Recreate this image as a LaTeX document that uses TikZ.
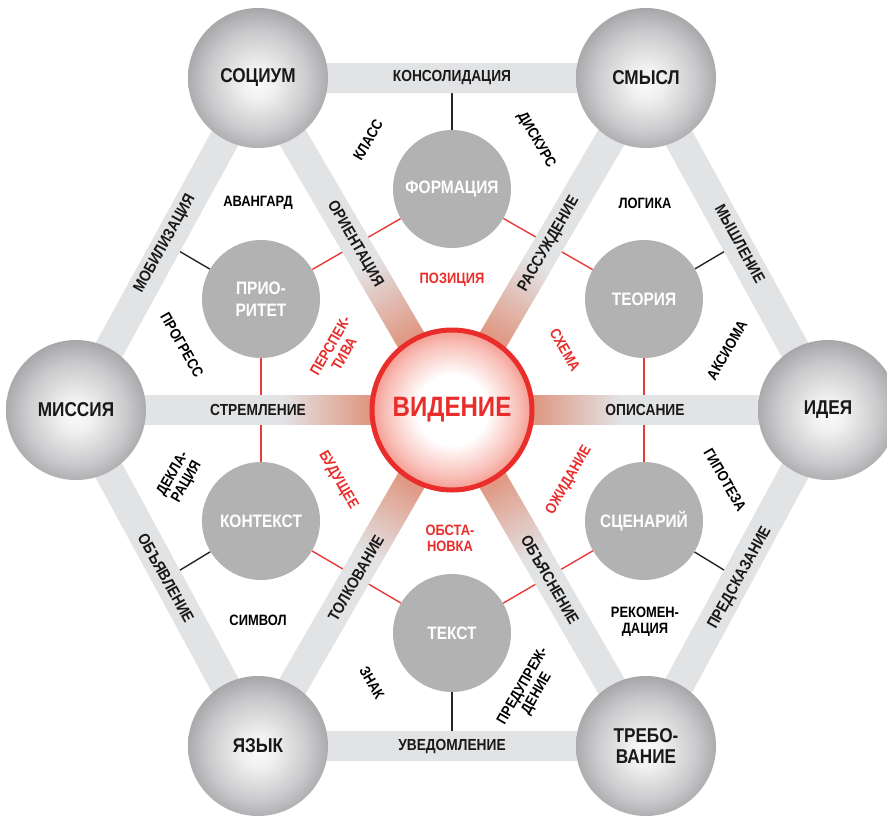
\documentclass[tikz,border=0pt]{standalone}
\usepackage{fontspec}
\setmainfont{Liberation Sans}[FakeStretch=0.86]
\usetikzlibrary{calc}
\definecolor{bandgray}{RGB}{226,227,229}
\definecolor{spokered}{RGB}{224,150,128}
\definecolor{innergray}{RGB}{178,178,178}
\definecolor{vred}{RGB}{233,45,42}
\definecolor{linered}{RGB}{232,58,55}
\definecolor{sphA}{RGB}{250,250,250}
\definecolor{sphB}{RGB}{240,240,241}
\definecolor{sphC}{RGB}{202,202,204}
\definecolor{sphD}{RGB}{158,158,160}
\definecolor{sphE}{RGB}{118,118,120}
\definecolor{redA}{RGB}{255,255,255}
\definecolor{redB}{RGB}{248,190,182}
\definecolor{redC}{RGB}{240,118,106}
\definecolor{redD}{RGB}{234,70,60}
\definecolor{txt}{RGB}{25,25,25}
\pgfdeclareradialshading{sphere}{\pgfpoint{0bp}{-2bp}}{color(0bp)=(sphA); color(6bp)=(sphB); color(18bp)=(sphC); color(28bp)=(sphD); color(35.5bp)=(sphE); color(50bp)=(sphE)}
\pgfdeclareradialshading{redsphere}{\pgfpoint{0bp}{0bp}}{color(0bp)=(redA); color(11bp)=(redA); color(21bp)=(redB); color(29bp)=(redC); color(35.5bp)=(redD); color(50bp)=(redD)}
\pgfdeclarelayer{lines}
\pgfdeclarelayer{bands}
\pgfsetlayers{lines,bands,main}
\begin{document}
\begin{tikzpicture}[x=1pt,y=-1pt,
  outer/.style={circle, minimum size=140pt, inner sep=0pt, shading=sphere, text=txt, align=center,
    font=\fontsize{20}{21}\selectfont\bfseries},
  vision/.style={circle, minimum size=160pt, inner sep=0pt, shading=redsphere, draw=vred, line width=5pt,
    text=vred, font=\fontsize{28}{30}\selectfont\bfseries},
  inner/.style={circle, minimum size=118pt, inner sep=0pt, fill=innergray, text=white, align=center,
    font=\fontsize{18}{22}\selectfont\bfseries},
  band/.style={draw=bandgray, line width=30pt},
  bandlbl/.style={text=txt, inner sep=0pt, font=\fontsize{16}{18}\selectfont\bfseries},
  smalllbl/.style={text=black, inner sep=0pt, align=center, font=\fontsize{15}{16}\selectfont\bfseries},
  redlbl/.style={smalllbl, text=vred},
  blkline/.style={draw=black!85, line width=1.4pt},
  redline/.style={draw=linered, line width=1.4pt}
]
\useasboundingbox (0,0) rectangle (887,815);

% outer circles
\node[outer] (soc) at (258,78) {СОЦИУМ};
\node[outer] (sm) at (646,78) {СМЫСЛ};
\node[outer] (idea) at (828,410) {ИДЕЯ};
\node[outer] (treb) at (646,746) {ТРЕБО-\\ВАНИЕ};
\node[outer] (yaz) at (258,746) {ЯЗЫК};
\node[outer] (mis) at (76,410) {МИССИЯ};
% centre
\node[vision] (vis) at (452,410) {ВИДЕНИЕ};
% inner circles
\node[inner] (form) at (452,189) {ФОРМАЦИЯ};
\node[inner] (prio) at (261,299) {ПРИО-\\РИТЕТ};
\node[inner] (teor) at (644,299) {ТЕОРИЯ};
\node[inner] (kont) at (261,521) {КОНТЕКСТ};
\node[inner] (scen) at (644,521) {СЦЕНАРИЙ};
\node[inner] (tekst) at (452,633) {ТЕКСТ};

% edge midpoints
\coordinate (mTop) at ($(soc)!0.5!(sm)$);
\coordinate (mTR) at ($(sm)!0.5!(idea)$);
\coordinate (mBR) at ($(idea)!0.5!(treb)$);
\coordinate (mBot) at ($(treb)!0.5!(yaz)$);
\coordinate (mBL) at ($(yaz)!0.5!(mis)$);
\coordinate (mTL) at ($(mis)!0.5!(soc)$);

% thin connectors
\begin{pgfonlayer}{lines}
\draw[blkline] (form) -- (mTop);
\draw[blkline] (teor) -- (mTR);
\draw[blkline] (scen) -- (mBR);
\draw[blkline] (tekst) -- (mBot);
\draw[blkline] (kont) -- (mBL);
\draw[blkline] (prio) -- (mTL);
\draw[redline] (form) -- (prio);
\draw[redline] (form) -- (teor);
\draw[redline] (teor) -- (scen);
\draw[redline] (scen) -- (tekst);
\draw[redline] (tekst) -- (kont);
\draw[redline] (kont) -- (prio);
\end{pgfonlayer}

% bands
\begin{pgfonlayer}{bands}
\draw[band] (soc.center) -- (sm.center) -- (idea.center) -- (treb.center) -- (yaz.center) -- (mis.center) -- cycle;
\foreach \n/\a in {soc/120.3, sm/59.7, idea/0, treb/-60, yaz/-120, mis/180}{
  \draw[band] (vis.center) -- (\n.center);
  \begin{scope}[shift={(vis.center)}, rotate=\a]
    \fill[spokered] (0,-15) rectangle (81,15);
    \foreach \i in {0,...,44}{
      \pgfmathsetmacro\p{100*\i/44}
      \fill[bandgray!\p!spokered] (80+2*\i,-15) rectangle (82.6+2*\i,15);
    }
  \end{scope}
}
\end{pgfonlayer}

% band labels
\node[bandlbl] (bKons) at (452,78) {КОНСОЛИДАЦИЯ};
\node[bandlbl] (bUved) at (452,746) {УВЕДОМЛЕНИЕ};
\node[bandlbl] (bStrem) at (258,410) {СТРЕМЛЕНИЕ};
\node[bandlbl] (bOpis) at (645,410) {ОПИСАНИЕ};
\node[bandlbl, rotate=61] (bMob) at (165,244) {МОБИЛИЗАЦИЯ};
\node[bandlbl, rotate=-61] (bMysh) at (740,244) {МЫШЛЕНИЕ};
\node[bandlbl, rotate=-61] (bObyav) at (166,578) {ОБЪЯВЛЕНИЕ};
\node[bandlbl, rotate=61] (bPred) at (740,578) {ПРЕДСКАЗАНИЕ};
\node[bandlbl, rotate=-60] (bOrient) at (355,244) {ОРИЕНТАЦИЯ};
\node[bandlbl, rotate=60] (bRass) at (549,244) {РАССУЖДЕНИЕ};
\node[bandlbl, rotate=60] (bTolk) at (356,578) {ТОЛКОВАНИЕ};
\node[bandlbl, rotate=-60] (bObyas) at (550,580) {ОБЪЯСНЕНИЕ};

% black labels
\node[smalllbl, rotate=60] (lKlass) at (368,140) {КЛАСС};
\node[smalllbl, rotate=-60] (lDisk) at (536,140) {ДИСКУРС};
\node[smalllbl] (lAvan) at (258,203) {АВАНГАРД};
\node[smalllbl] (lLog) at (645,203) {ЛОГИКА};
\node[smalllbl, rotate=-60] (lProg) at (182,345) {ПРОГРЕСС};
\node[smalllbl, rotate=60] (lAks) at (727,350) {АКСИОМА};
\node[smalllbl, rotate=60] (lDekl) at (180,478) {ДЕКЛА-\\РАЦИЯ};
\node[smalllbl, rotate=-60] (lGip) at (725,480) {ГИПОТЕЗА};
\node[smalllbl] (lSimv) at (258,620) {СИМВОЛ};
\node[smalllbl] (lRek) at (645,622) {РЕКОМЕН-\\ДАЦИЯ};
\node[smalllbl, rotate=-60] (lZnak) at (372,683) {ЗНАК};
\node[smalllbl, rotate=60] (lPred) at (530,690) {ПРЕДУПРЕЖ-\\ДЕНИЕ};

% red labels
\node[redlbl] (rPoz) at (452,280) {ПОЗИЦИЯ};
\node[redlbl, rotate=60] (rPersp) at (337,350) {ПЕРСПЕК-\\ТИВА};
\node[redlbl, rotate=-60] (rSkhema) at (565,350) {СХЕМА};
\node[redlbl, rotate=-60] (rBud) at (338,480) {БУДУЩЕЕ};
\node[redlbl, rotate=60] (rOzh) at (569,480) {ОЖИДАНИЕ};
\node[redlbl] (rObst) at (450,538) {ОБСТА-\\НОВКА};
\end{tikzpicture}
\end{document}
